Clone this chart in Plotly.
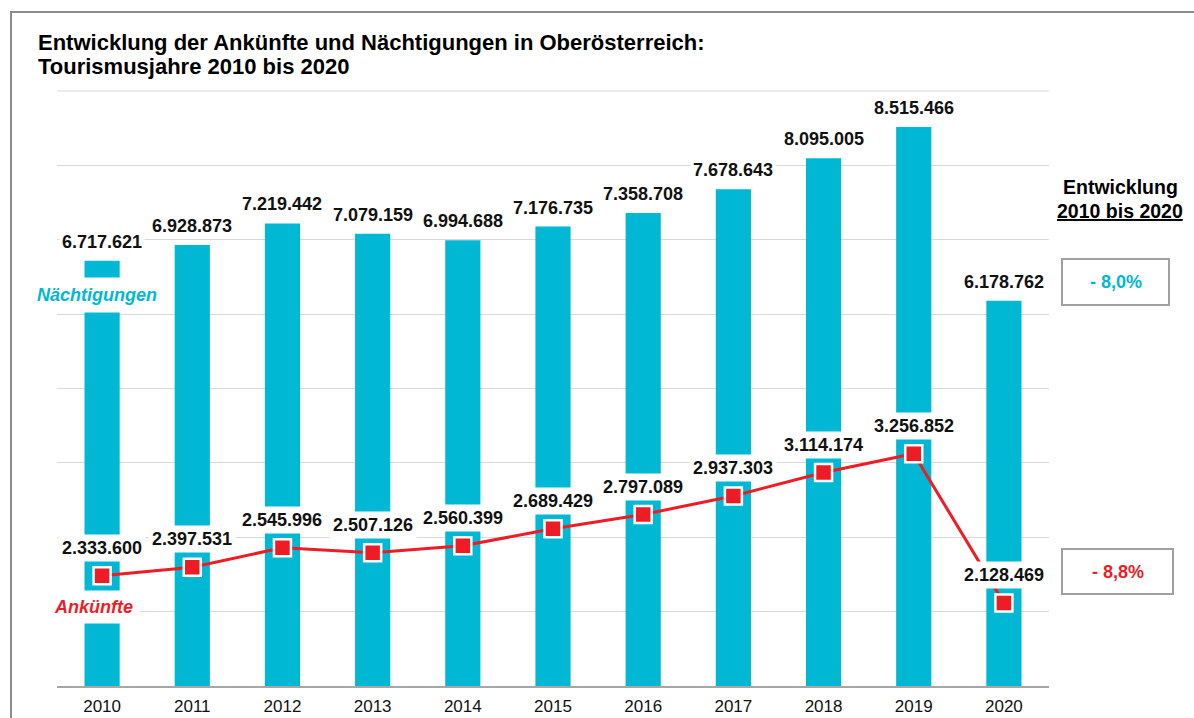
import plotly.graph_objects as go

years = ["2010", "2011", "2012", "2013", "2014", "2015", "2016", "2017", "2018", "2019", "2020"]
naechtigungen = [6717621, 6928873, 7219442, 7079159, 6994688, 7176735, 7358708, 7678643, 8095005, 8515466, 6178762]
ankuenfte = [2333600, 2397531, 2545996, 2507126, 2560399, 2689429, 2797089, 2937303, 3114174, 3256852, 2128469]
change_naecht = "- 8,0%"
change_ank = "- 8,8%"

CYAN = "#00B8D4"
RED = "#EE1C25"
FONT = "Liberation Sans, Arial, sans-serif"

W, H = 1194, 718
L, R, T, B = 57, 1049, 91, 686  # plot area in px


def px(x):
    return (x - L) / (R - L)


def py(y):
    return (B - y) / (B - T)


def de(v):
    return f"{v:,}".replace(",", ".")


idx = list(range(len(years)))

fig = go.Figure()
fig.add_trace(go.Bar(x=idx, y=naechtigungen, marker=dict(color=CYAN, line=dict(width=0)),
                     width=0.39, name="Nächtigungen", yaxis="y"))
fig.add_trace(go.Scatter(x=idx, y=ankuenfte, mode="lines+markers", yaxis="y2", name="Ankünfte",
                         line=dict(color=RED, width=3),
                         marker=dict(symbol="square", size=17, color=RED, line=dict(color="white", width=2.5))))

ann = []
for i, v in zip(idx, naechtigungen):
    ann.append(dict(x=i, y=v, xref="x", yref="y", text=de(v), showarrow=False, yanchor="middle",
                    yshift=19, bgcolor="white", borderpad=2,
                    font=dict(family=FONT, size=18, color="#111", weight="bold")))
for i, v in zip(idx, ankuenfte):
    ann.append(dict(x=i, y=v, xref="x", yref="y2", text=de(v), showarrow=False, yanchor="middle",
                    yshift=28, bgcolor="white", borderpad=3,
                    font=dict(family=FONT, size=18, color="#111", weight="bold")))

# series name labels
ann.append(dict(x=px(97), y=py(295), xref="paper", yref="paper", text="<i>Nächtigungen</i>", showarrow=False,
                xanchor="center", yanchor="middle", bgcolor="white", borderpad=7,
                font=dict(family=FONT, size=18, color=CYAN, weight="bold")))
ann.append(dict(x=px(93), y=py(607), xref="paper", yref="paper", text="<i>Ankünfte</i>", showarrow=False,
                xanchor="center", yanchor="middle", bgcolor="white", borderpad=6,
                font=dict(family=FONT, size=18, color=RED, weight="bold")))

# title
ann.append(dict(x=px(36), y=py(42), xref="paper", yref="paper", text="Entwicklung der Ankünfte und Nächtigungen in Oberösterreich:",
                showarrow=False, xanchor="left", yanchor="middle",
                font=dict(family=FONT, size=22, color="#000", weight="bold")))
ann.append(dict(x=px(36), y=py(67), xref="paper", yref="paper", text="Tourismusjahre 2010 bis 2020",
                showarrow=False, xanchor="left", yanchor="middle",
                font=dict(family=FONT, size=22, color="#000", weight="bold")))

# right side
ann.append(dict(x=px(1120), y=py(187), xref="paper", yref="paper", text="Entwicklung",
                showarrow=False, xanchor="center", yanchor="middle",
                font=dict(family=FONT, size=19.5, color="#000", weight="bold")))
ann.append(dict(x=px(1120), y=py(211), xref="paper", yref="paper", text="<u>2010 bis 2020</u>",
                showarrow=False, xanchor="center", yanchor="middle",
                font=dict(family=FONT, size=19.5, color="#000", weight="bold")))
ann.append(dict(x=px(1116), y=py(282), xref="paper", yref="paper", text=change_naecht,
                showarrow=False, xanchor="center", yanchor="middle",
                font=dict(family=FONT, size=18, color=CYAN, weight="bold")))
ann.append(dict(x=px(1118), y=py(572), xref="paper", yref="paper", text=change_ank,
                showarrow=False, xanchor="center", yanchor="middle",
                font=dict(family=FONT, size=18, color=RED, weight="bold")))

shapes = [
    dict(type="rect", xref="paper", yref="paper", x0=px(1062), x1=px(1169), y0=py(305), y1=py(259),
         line=dict(color="#A0A0A0", width=2), fillcolor="white"),
    dict(type="rect", xref="paper", yref="paper", x0=px(1062), x1=px(1173), y0=py(594), y1=py(549),
         line=dict(color="#A0A0A0", width=2), fillcolor="white"),
    dict(type="path", xref="paper", yref="paper",
         path=f"M {px(11)} {py(720)} L {px(11)} {py(12)} L {px(1196)} {py(12)}",
         line=dict(color="#8C8C8C", width=2)),
    dict(type="line", xref="paper", yref="paper", x0=0, x1=1, y0=1, y1=1, layer="below",
         line=dict(color="#D9D9D9", width=1)),
]

fig.update_layout(
    width=W, height=H,
    margin=dict(l=L, r=W - R, t=T, b=H - B),
    paper_bgcolor="white", plot_bgcolor="white",
    showlegend=False,
    annotations=ann, shapes=shapes,
    xaxis=dict(range=[-0.5, len(years) - 0.5], tickmode="array", tickvals=idx, ticktext=years,
               automargin=False, ticklabelstandoff=4,
               showgrid=False, zeroline=False, showline=True, linecolor="#A6A6A6", linewidth=1.5, ticks="",
               tickfont=dict(family=FONT, size=17, color="#111")),
    yaxis=dict(range=[1000000, 9000000], dtick=1000000, showgrid=True, gridcolor="#D9D9D9", gridwidth=1,
               automargin=False,
               showticklabels=False, zeroline=False, showline=False),
    yaxis2=dict(range=[1500000, 6000000], overlaying="y", side="right", showgrid=False, automargin=False,
                showticklabels=False, zeroline=False, showline=False),
)

fig.write_html("out.html", config={"displayModeBar": False},
               post_script="document.body.style.margin='0';document.body.style.overflow='hidden';")
